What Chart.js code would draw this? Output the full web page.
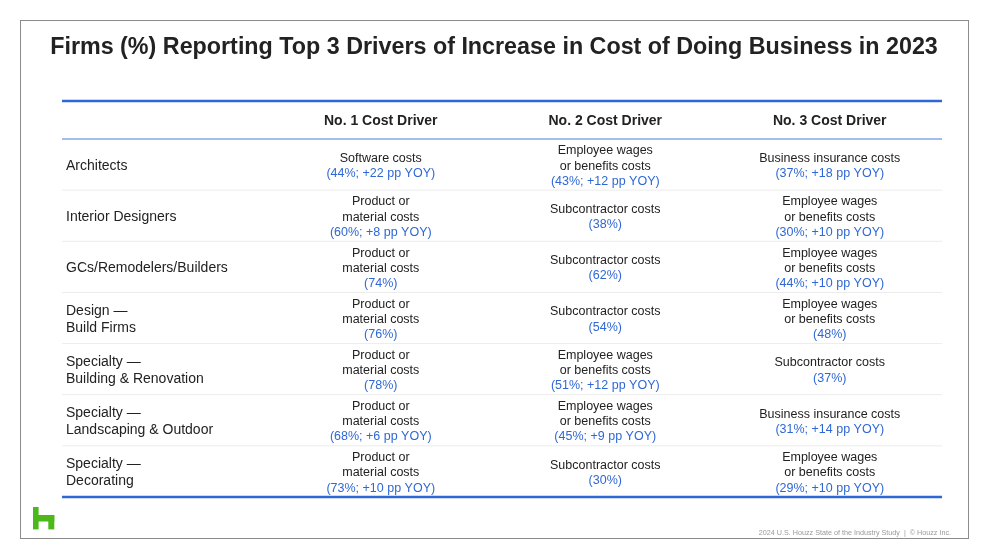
<!DOCTYPE html>
<html>
<head>
<meta charset="utf-8">
<script src="https://cdn.jsdelivr.net/npm/chart.js@4.4.1/dist/chart.umd.min.js"></script>
<style>
  html, body { margin: 0; padding: 0; background: #fff; }
  canvas { display: block; }
</style>
</head>
<body>
<canvas id="costTable" width="990" height="560"></canvas>
<script>
const TITLE = 'Firms (%) Reporting Top 3 Drivers of Increase in Cost of Doing Business in 2023';
const FOOTNOTE = '2024 U.S. Houzz State of the Industry Study  |  \u00A9 Houzz Inc.';

const columns = ['No. 1 Cost Driver', 'No. 2 Cost Driver', 'No. 3 Cost Driver'];
const groups = [
  ['Architects'],
  ['Interior Designers'],
  ['GCs/Remodelers/Builders'],
  ['Design \u2014', 'Build Firms'],
  ['Specialty \u2014', 'Building & Renovation'],
  ['Specialty \u2014', 'Landscaping & Outdoor'],
  ['Specialty \u2014', 'Decorating']
];

// driver per column, share of firms (%), YOY change in pp (null = not reported)
const driver1 = ['Software costs', 'Product or material costs', 'Product or material costs', 'Product or material costs',
  'Product or material costs', 'Product or material costs', 'Product or material costs'];
const share1 = [44, 60, 74, 76, 78, 68, 73];
const yoy1 = [22, 8, null, null, null, 6, 10];

const driver2 = ['Employee wages or benefits costs', 'Subcontractor costs', 'Subcontractor costs', 'Subcontractor costs',
  'Employee wages or benefits costs', 'Employee wages or benefits costs', 'Subcontractor costs'];
const share2 = [43, 38, 62, 54, 51, 45, 30];
const yoy2 = [12, null, null, null, 12, 9, null];

const driver3 = ['Business insurance costs', 'Employee wages or benefits costs', 'Employee wages or benefits costs',
  'Employee wages or benefits costs', 'Subcontractor costs', 'Business insurance costs', 'Employee wages or benefits costs'];
const share3 = [37, 30, 44, 48, 37, 31, 29];
const yoy3 = [18, 10, 10, null, null, 14, 10];

// how long driver names wrap in a cell
const wrap = {
  'Product or material costs': ['Product or', 'material costs'],
  'Employee wages or benefits costs': ['Employee wages', 'or benefits costs']
};

const HEADER = 0.743;   // header band height, in rows
const LABEL_COL = 0.92; // label column width, in driver columns

const drivers = [driver1, driver2, driver3];
const shares = [share1, share2, share3];
const yoys = [yoy1, yoy2, yoy3];

const BLUE = '#2f68d6';
const INK = '#222222';
const FONT = '"Liberation Sans", Arial, Helvetica, sans-serif';
const NUDGE = 1.5; // middle baseline sits a bit high

const cellSets = columns.map((col, c) => ({
  label: col,
  kind: 'cell',
  col: c,
  data: groups.map((g, i) => ({ x: c + 0.5, y: i + 0.5 })),
  pointRadius: 0
}));

const data = {
  datasets: [
    { label: 'header', kind: 'header', data: columns.map((col, c) => ({ x: c + 0.5, y: -HEADER / 2 })), pointRadius: 0 },
    { label: 'groups', kind: 'group', data: groups.map((g, i) => ({ x: -LABEL_COL, y: i + 0.5 })), pointRadius: 0 },
    ...cellSets
  ]
};

function drawLines(ctx, lines, x, cy, lh) {
  lines.forEach((ln, k) => {
    ctx.fillStyle = ln.color;
    ctx.fillText(ln.text, x, cy + NUDGE + (k - (lines.length - 1) / 2) * lh);
  });
}

const tablePlugin = {
  id: 'tablePlugin',
  afterDatasetsDraw(chart) {
    const { ctx, chartArea: area, scales: { y } } = chart;
    ctx.save();

    // slide frame
    ctx.strokeStyle = '#8c8c8c';
    ctx.lineWidth = 1;
    ctx.strokeRect(20.5, 20.5, 948, 518);

    // title
    ctx.fillStyle = INK;
    ctx.font = 'bold 23.3px ' + FONT;
    ctx.textAlign = 'center';
    ctx.textBaseline = 'alphabetic';
    ctx.fillText(TITLE, 494, 53.5);

    // rules
    const rule = (val, color, w) => {
      const py = y.getPixelForValue(val);
      ctx.strokeStyle = color;
      ctx.lineWidth = w;
      ctx.beginPath();
      ctx.moveTo(area.left, py);
      ctx.lineTo(area.right, py);
      ctx.stroke();
    };
    for (let i = 1; i < groups.length; i++) rule(i, '#ececec', 1);
    rule(-HEADER, BLUE, 2.5);
    rule(0, '#86a8e6', 1.5);
    rule(groups.length, BLUE, 2.5);

    ctx.textBaseline = 'middle';
    chart.data.datasets.forEach((ds, d) => {
      const pts = chart.getDatasetMeta(d).data;
      if (ds.kind === 'header') {
        ctx.font = 'bold 14px ' + FONT;
        ctx.textAlign = 'center';
        ctx.fillStyle = INK;
        pts.forEach((p, c) => ctx.fillText(columns[c], p.x, p.y + NUDGE));
      } else if (ds.kind === 'group') {
        ctx.font = '14px ' + FONT;
        ctx.textAlign = 'left';
        pts.forEach((p, i) => drawLines(ctx, groups[i].map(t => ({ text: t, color: INK })), p.x + 4, p.y, 17));
      } else {
        ctx.font = '12.5px ' + FONT;
        ctx.textAlign = 'center';
        const c = ds.col;
        pts.forEach((p, i) => {
          const name = drivers[c][i];
          const yoy = yoys[c][i];
          const stat = '(' + shares[c][i] + '%' + (yoy === null ? '' : '; +' + yoy + ' pp YOY') + ')';
          const lines = (wrap[name] || [name]).map(t => ({ text: t, color: INK }));
          lines.push({ text: stat, color: BLUE });
          drawLines(ctx, lines, p.x, p.y, 15.2);
        });
      }
    });

    // Houzz mark
    ctx.fillStyle = '#4cb81a';
    ctx.fillRect(33, 507, 5.6, 22.4);
    ctx.fillRect(33, 515, 21.3, 6.5);
    ctx.fillRect(48.3, 515, 6, 14.4);

    // footnote
    ctx.font = '7.2px ' + FONT;
    ctx.fillStyle = '#9a9a9a';
    ctx.textAlign = 'right';
    ctx.fillText(FOOTNOTE, 951, 533);

    ctx.restore();
  }
};

new Chart(document.getElementById('costTable'), {
  type: 'scatter',
  data: data,
  options: {
    responsive: false,
    animation: false,
    events: [],
    layout: { padding: { left: 62, right: 48, top: 101, bottom: 63 } },
    plugins: { legend: { display: false }, tooltip: { enabled: false } },
    scales: {
      x: { type: 'linear', display: false, min: -LABEL_COL, max: columns.length },
      y: { type: 'linear', display: false, reverse: true, min: -HEADER, max: groups.length }
    }
  },
  plugins: [tablePlugin]
});
</script>
</body>
</html>
